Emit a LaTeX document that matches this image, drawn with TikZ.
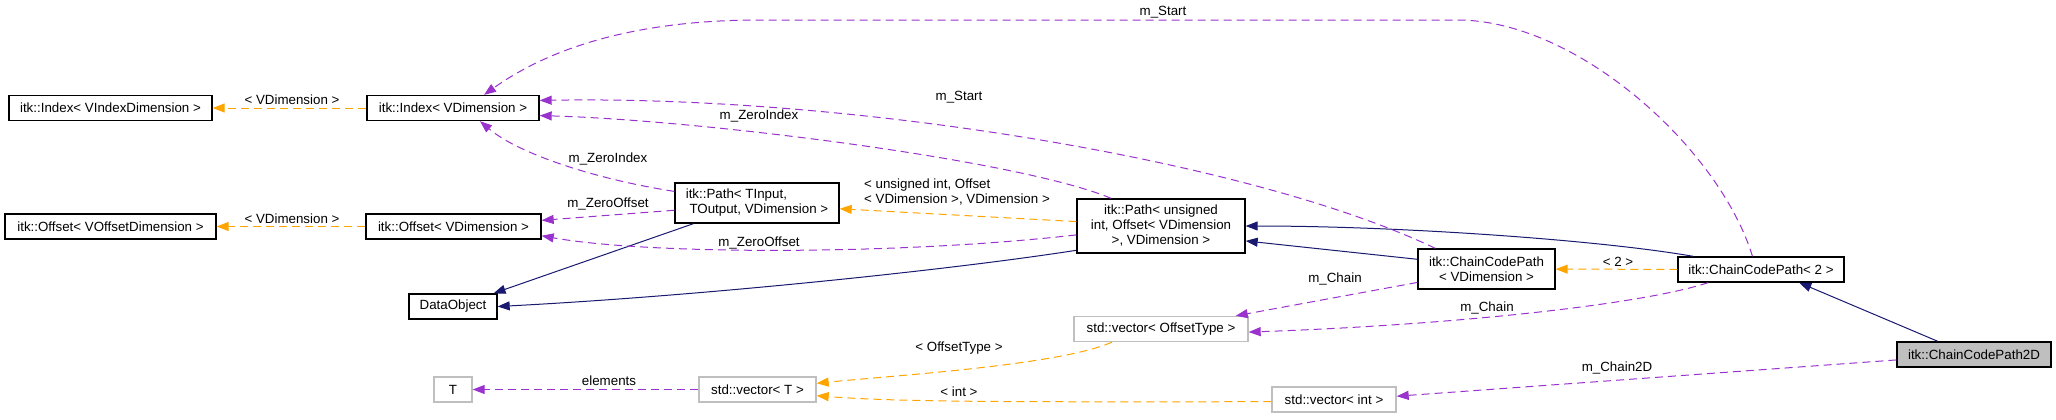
\documentclass[tikz,border=0pt]{standalone}
\usepackage{fontspec}
\setmainfont{Liberation Sans}
\usetikzlibrary{arrows.meta}
\definecolor{inhcol}{HTML}{191970}
\definecolor{usecol}{HTML}{9A32CD}
\definecolor{tplcol}{HTML}{FFA500}
\definecolor{extcol}{HTML}{BFBFBF}

\begin{document}
\begin{tikzpicture}[
    x=0.75pt, y=-0.75pt,
    cls/.style={draw=black, line width=1pt, fill=white, inner sep=0pt, minimum height=18.75pt, align=center, font=\fontsize{10}{11.25}\selectfont},
    ext/.style={cls, draw=extcol},
    lbl/.style={inner sep=0pt, font=\fontsize{10}{11.25}\selectfont},
    inh/.style={-{Triangle[length=9pt,width=6.75pt]}, draw=inhcol, line width=0.75pt},
    use/.style={-{Triangle[length=9pt,width=6.75pt]}, draw=usecol, line width=0.75pt, dash pattern=on 6pt off 3.75pt},
    tpl/.style={use, draw=tplcol}
]
\useasboundingbox (0,0) rectangle (2056,419);

\node[cls, minimum width=152.25pt] (idxVI) at (110.5,108) {itk::Index< VIndexDimension >};
\node[cls, minimum width=129pt] (idxV) at (453,108) {itk::Index< VDimension >};
\node[cls, minimum width=158.25pt] (offVO) at (110.5,226.5) {itk::Offset< VOffsetDimension >};
\node[cls, minimum width=131.25pt] (offV) at (453.5,226.5) {itk::Offset< VDimension >};
\node[cls, minimum width=66pt] (dobj) at (453,306.5) {DataObject};
\node[ext, minimum width=28.5pt] (T) at (453,389.5) {T};
\node[cls, minimum width=123pt, minimum height=30pt, align=left] (pathTI) at (757,203) {itk::Path< TInput,\\ \ TOutput, VDimension >};
\node[cls, minimum width=126pt, minimum height=40.5pt] (pathU) at (1161,226) {itk::Path< unsigned\ \\int, Offset< VDimension\\>, VDimension >};
\node[ext, minimum width=130.5pt] (vecOff) at (1161,329) {std::vector< OffsetType >};
\node[ext, minimum width=87.75pt] (vecT) at (757.5,389.5) {std::vector< T >};
\node[ext, minimum width=93pt] (vecInt) at (1334,399.5) {std::vector< int >};
\node[cls, minimum width=102.75pt, minimum height=30pt] (ccpV) at (1486.5,269) {itk::ChainCodePath\\< VDimension >};
\node[cls, minimum width=124.5pt] (ccp2) at (1761,269.5) {itk::ChainCodePath< 2 >};
\node[cls, fill=extcol, minimum width=115.5pt] (ccp2d) at (1974,354.5) {itk::ChainCodePath2D};

\node[lbl] (lIdx) at (292,100) {< VDimension >};
\node[lbl] (lOff) at (292,219) {< VDimension >};
\node[lbl] (lZI1) at (608,159) {m\_ZeroIndex};
\node[lbl] (lZO1) at (608,204) {m\_ZeroOffset};
\node[lbl, align=left] (lPath) at (957,192) {< unsigned int, Offset\\< VDimension >, VDimension >};
\node[lbl] (lZI2) at (759,116) {m\_ZeroIndex};
\node[lbl] (lZO2) at (759,243) {m\_ZeroOffset};
\node[lbl] (lTwo) at (1618,262) {< 2 >};
\node[lbl] (lSt1) at (959,97) {m\_Start};
\node[lbl] (lSt2) at (1163,12) {m\_Start};
\node[lbl] (lCh1) at (1335,279) {m\_Chain};
\node[lbl] (lCh2) at (1487,308) {m\_Chain};
\node[lbl] (lOT) at (959,348) {< OffsetType >};
\node[lbl] (lInt) at (959,392) {< int >};
\node[lbl] (lEl) at (609,381) {elements};
\node[lbl] (lC2D) at (1617,368) {m\_Chain2D};

\draw[tpl] (idxV) -- (idxVI);
\draw[tpl] (offV) -- (offVO);
\draw[use] (pathTI.172) .. controls (600,180) and (520,155) .. (idxV.334);
\draw[use] (pathTI.185) -- (offV.4);
\draw[inh] (pathTI.198) -- (dobj.18);
\draw[inh] (pathU.196) .. controls (950,270) and (700,296) .. (dobj.east);
\draw[tpl] (pathU.177) -- (pathTI.356);
\draw[use] (pathU.151) .. controls (1020,160) and (700,120) .. (idxV.355);
\draw[use] (pathU.186) .. controls (900,255) and (650,255) .. (offV.354);
\draw[inh] (ccpV.172) -- (pathU.350);
\draw[inh] (ccp2.169) .. controls (1600,240) and (1400,226) .. (pathU.east);
\draw[tpl] (ccp2) -- (ccpV);
\draw[use] (ccpV.158) .. controls (1250,160) and (850,95) .. (idxV.5);
\draw[use] (ccp2.123) .. controls (1720,150) and (1580,22) .. (1460,20) -- (760,20) .. controls (620,20) and (540,55) .. (idxV.23);
\draw[use] (ccpV.191) -- (vecOff.10);
\draw[use] (ccp2.194) .. controls (1640,305) and (1450,325) .. (vecOff.358);
\draw[tpl] (vecOff.195) .. controls (1060,365) and (900,375) .. (vecT.6);
\draw[tpl] (vecInt.182) .. controls (1000,402) and (900,402) .. (vecT.354);
\draw[use] (vecT) -- (T);
\draw[inh] (ccp2d.160) -- (ccp2.341);
\draw[use] (ccp2d.184) -- (vecInt.3);
\end{tikzpicture}
\end{document}
